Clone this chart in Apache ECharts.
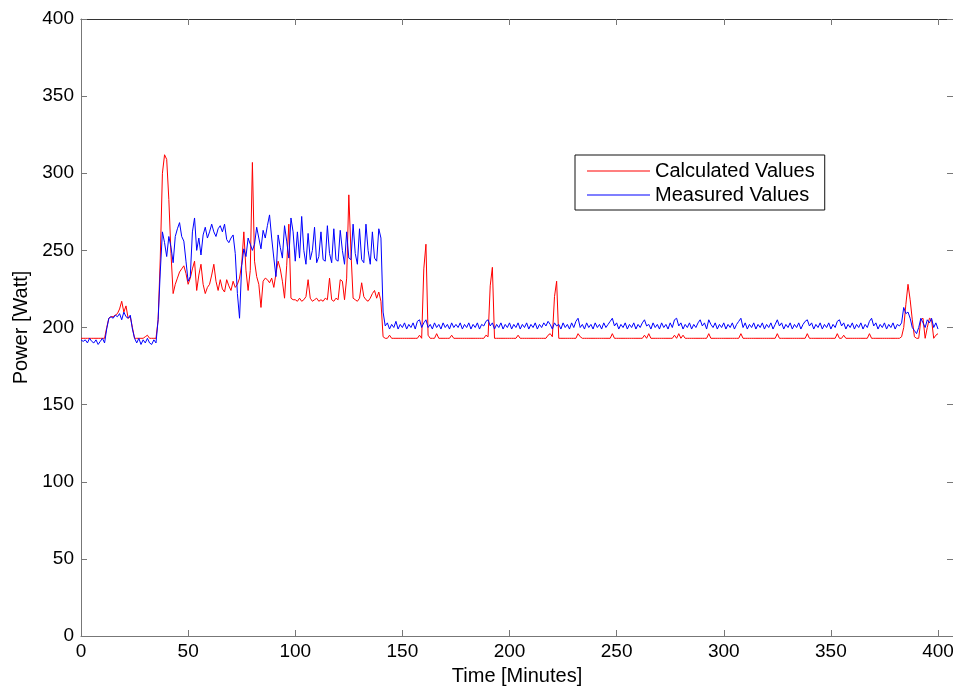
<!DOCTYPE html>
<html>
<head>
<meta charset="utf-8">
<script src="https://cdn.jsdelivr.net/npm/echarts@6/dist/echarts.min.js"></script>
<style>html,body{margin:0;padding:0;background:#fff}#c{width:953px;height:688px}</style>
</head>
<body>
<div id="c"></div>
<script>
// Time in minutes is the sample index (one sample per minute, 0..400)
const xTicks = [0, 50, 100, 150, 200, 250, 300, 350, 400];
const yTicks = [0, 50, 100, 150, 200, 250, 300, 350, 400];
const seriesNames = ['Calculated Values', 'Measured Values'];

const calculatedValues = [
  193,193,193,193,193,193,193,193,193,193,
  193,193,200,206,207,207,208,209,212,217,
  210,214,206,207,200,193,193,193,193,193,
  194,195,193,193,193,193,205,245,300,312,
  309,283,248,222,228,232,236,238,240,235,
  228,232,238,243,224,234,241,228,222,226,
  228,234,241,230,224,231,225,223,231,227,
  224,230,226,228,232,241,262,237,224,237,
  307,243,233,228,213,230,232,231,229,232,
  226,235,243,238,230,219,240,267,219,218,
  218,217,219,217,218,220,231,219,217,218,
  219,217,218,217,219,218,232,218,217,219,
  218,231,230,218,232,286,249,219,218,217,
  219,229,220,218,217,219,222,224,219,223,
  217,194,193,193,195,193,193,193,193,193,
  193,193,193,193,193,193,193,193,195,193,
  238,254,195,193,193,193,196,193,193,193,
  193,193,193,195,193,193,193,193,193,193,
  193,193,193,193,193,193,193,193,193,195,
  194,227,239,193,193,193,193,193,193,193,
  193,193,193,193,195,193,193,193,193,193,
  193,193,193,193,193,193,193,193,195,196,
  194,220,230,193,193,193,193,193,193,193,
  193,193,196,194,193,193,193,193,193,193,
  193,193,193,193,193,193,193,193,196,193,
  193,193,193,193,193,193,193,193,193,193,
  193,193,193,195,193,196,193,193,193,193,
  193,193,193,193,193,193,193,195,193,196,
  193,195,193,193,193,193,193,193,193,193,
  193,193,193,196,193,193,193,193,193,193,
  193,193,193,193,193,193,193,193,196,193,
  193,193,193,193,193,193,193,193,193,193,
  193,193,193,193,193,196,193,193,193,193,
  193,193,193,193,193,193,193,193,193,196,
  193,193,193,193,193,193,193,193,193,193,
  193,193,193,196,193,193,195,193,193,193,
  193,193,193,193,193,193,193,193,196,193,
  193,193,193,193,193,193,193,193,193,193,
  193,193,193,194,200,215,228,218,205,194,
  193,193,205,206,193,200,206,205,193,195,
  196
];

const measuredValues = [
  192,191,192,190,193,191,190,192,189,191,
  193,190,199,206,207,206,208,207,209,205,
  210,207,206,208,199,193,190,193,189,192,
  190,193,190,189,192,190,205,236,262,255,
  246,259,252,242,259,264,268,259,256,243,
  230,233,262,271,250,258,247,260,265,258,
  262,267,262,259,264,266,262,267,257,255,
  258,260,248,222,206,240,251,246,258,254,
  250,254,265,258,251,263,258,266,273,258,
  245,233,260,252,245,266,256,245,271,262,
  243,262,245,272,250,241,261,244,250,265,
  242,246,262,244,243,266,248,242,264,244,
  243,263,250,241,262,245,244,267,248,241,
  264,244,242,267,250,241,262,245,243,264,
  258,210,201,203,199,202,200,204,199,202,
  200,203,199,202,200,203,199,204,205,200,
  203,205,200,202,199,203,200,202,199,203,
  200,202,199,203,200,202,200,203,199,202,
  200,203,199,202,200,203,199,202,201,204,
  205,201,203,199,202,200,203,199,202,200,
  203,199,202,200,203,199,202,200,203,199,
  202,200,203,199,202,200,203,201,204,202,
  199,203,201,202,199,203,200,202,199,203,
  200,204,206,200,202,199,203,200,202,199,
  203,200,202,199,203,200,202,204,206,201,
  203,199,202,200,203,199,202,200,203,199,
  202,200,203,205,201,202,199,203,200,202,
  199,203,200,202,199,203,200,205,206,201,
  203,199,202,200,203,199,202,200,203,205,
  201,203,199,205,202,200,203,199,202,200,
  203,199,202,200,203,199,202,204,206,200,
  203,199,202,200,203,199,202,200,203,199,
  202,200,203,199,202,205,201,203,199,202,
  200,203,199,202,200,203,199,202,204,205,
  201,203,199,202,200,203,199,202,200,203,
  199,202,200,204,205,201,203,199,202,200,
  203,199,202,200,203,199,202,200,204,206,
  201,203,199,202,200,203,199,202,200,203,
  199,202,201,203,213,209,210,206,200,198,
  196,200,206,203,200,205,203,206,200,203,
  199
];

const toPairs = arr => arr.map((v, i) => [i, v]);

const chart = echarts.init(document.getElementById('c'), null, {renderer: 'canvas'});
const FONT = 'Liberation Sans, Arial, sans-serif';
const xMin = 0, xMax = 407, yMin = 0, yMax = 400;

chart.setOption({
  animation: false,
  backgroundColor: '#ffffff',
  grid: {left: 81, right: 0, top: 19, bottom: 52, containLabel: false, outerBoundsMode: 'none'},
  legend: {
    data: seriesNames,
    orient: 'vertical',
    left: 575, top: 155,
    icon: 'rect',
    backgroundColor: '#ffffff',
    borderColor: '#111', borderWidth: 1, borderRadius: 0,
    padding: [6, 10, 5, 12],
    itemWidth: 63, itemHeight: 1, itemGap: 4,
    textStyle: {fontFamily: FONT, fontSize: 20, color: '#000', lineHeight: 20}
  },
  xAxis: [{
    type: 'value', min: xMin, max: xMax, interval: 50,
    name: 'Time [Minutes]', nameLocation: 'middle', nameGap: 30,
    nameTextStyle: {fontFamily: FONT, fontSize: 20, color: '#000'},
    axisLine: {onZero: false, lineStyle: {color: '#777', width: 1}},
    axisTick: {inside: true, length: 6, lineStyle: {color: '#777'}},
    axisLabel: {fontFamily: FONT, fontSize: 19, color: '#000', margin: 6,
      formatter: v => (xTicks.indexOf(v) >= 0 ? String(v) : '')},
    splitLine: {show: false}
  }, {
    type: 'value', min: xMin, max: xMax, interval: 50, position: 'top',
    axisLine: {onZero: false, lineStyle: {color: '#333', width: 1}},
    axisTick: {inside: true, length: 6, lineStyle: {color: '#777'}},
    axisLabel: {show: false}, splitLine: {show: false}
  }],
  yAxis: [{
    type: 'value', min: yMin, max: yMax, interval: 50,
    name: 'Power [Watt]', nameLocation: 'middle', nameGap: 50,
    nameTextStyle: {fontFamily: FONT, fontSize: 20, color: '#000'},
    axisLine: {show: true, onZero: false, lineStyle: {color: '#777', width: 1}},
    axisTick: {show: true, inside: true, length: 6, lineStyle: {color: '#777'}},
    axisLabel: {fontFamily: FONT, fontSize: 19, color: '#000', margin: 7,
      formatter: v => (yTicks.indexOf(v) >= 0 ? String(v) : '')},
    splitLine: {show: false}
  }, {
    type: 'value', min: yMin, max: yMax, interval: 50, position: 'right',
    axisLine: {show: true, onZero: false, lineStyle: {color: '#333', width: 1}},
    axisTick: {show: true, inside: true, length: 6, lineStyle: {color: '#777'}},
    axisLabel: {show: false}, splitLine: {show: false}
  }],
  series: [{
    name: seriesNames[0], type: 'line', data: toPairs(calculatedValues),
    symbol: 'none', smooth: false,
    lineStyle: {color: '#ff0000', width: 1}, itemStyle: {color: '#ff0000'}
  }, {
    name: seriesNames[1], type: 'line', data: toPairs(measuredValues),
    symbol: 'none', smooth: false,
    lineStyle: {color: '#0000ff', width: 1}, itemStyle: {color: '#0000ff'}
  }]
});
</script>
</body>
</html>
